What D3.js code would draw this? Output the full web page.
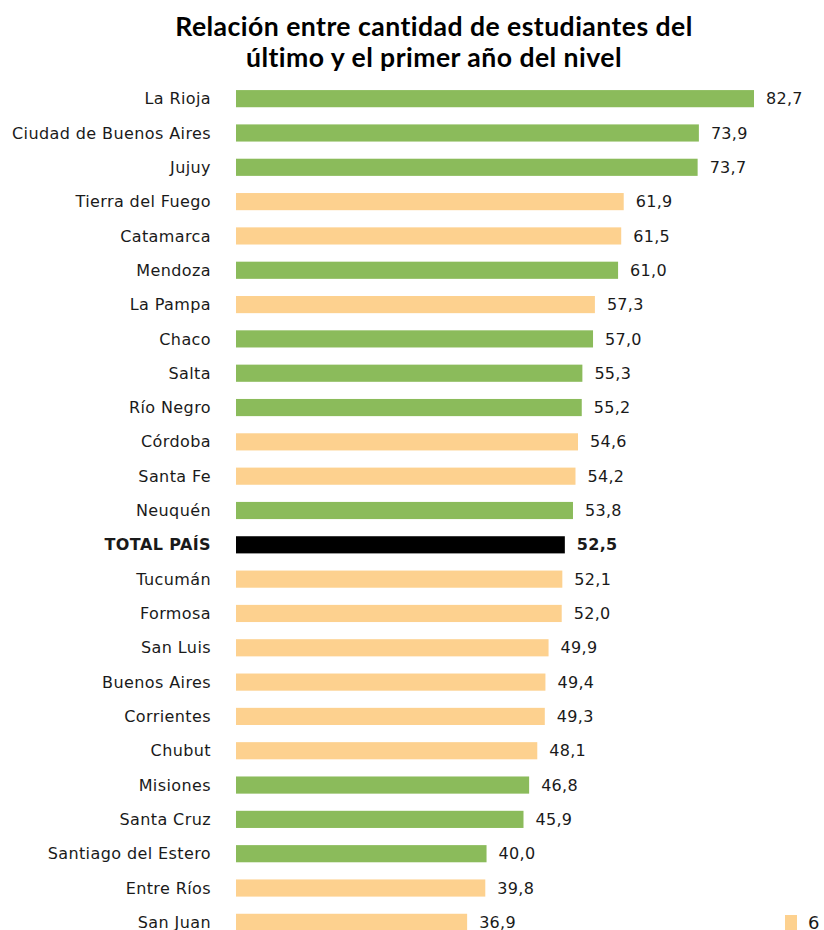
<!DOCTYPE html>
<html>
<head>
<meta charset="utf-8">
<script src="https://cdn.jsdelivr.net/npm/d3@7"></script>
<style>
  html, body { margin: 0; padding: 0; background: #fff; overflow: hidden; }
  svg { display: block; }
</style>
</head>
<body>
<svg id="chart" width="824" height="930"></svg>
<script>
// Provinces ordered by ratio between students in the last and first year
const provinces = ["La Rioja", "Ciudad de Buenos Aires", "Jujuy", "Tierra del Fuego", "Catamarca",
  "Mendoza", "La Pampa", "Chaco", "Salta", "Río Negro", "Córdoba", "Santa Fe", "Neuquén",
  "TOTAL PAÍS", "Tucumán", "Formosa", "San Luis", "Buenos Aires", "Corrientes", "Chubut",
  "Misiones", "Santa Cruz", "Santiago del Estero", "Entre Ríos", "San Juan"];
const ratios = [82.7, 73.9, 73.7, 61.9, 61.5, 61.0, 57.3, 57.0, 55.3, 55.2, 54.6, 54.2, 53.8,
  52.5, 52.1, 52.0, 49.9, 49.4, 49.3, 48.1, 46.8, 45.9, 40.0, 39.8, 36.9];
// group: g = green, t = tan, total = national total
const groups = ["g", "g", "g", "t", "t", "g", "t", "g", "g", "g", "t", "t", "g",
  "total", "t", "t", "t", "t", "t", "t", "g", "g", "g", "t", "t"];
const titleLines = ["Relación entre cantidad de estudiantes del", "último y el primer año del nivel"];

const colors = { g: "#8bbb5b", t: "#fdd18f", total: "#000000" };
const fmt = v => d3.format(".1f")(v).replace(".", ",");

const svg = d3.select("#chart");

svg.selectAll("text.title").data(titleLines).join("text")
  .attr("class", "title")
  .attr("x", 434)
  .attr("y", (d, i) => 36 + i * 30.5)
  .attr("text-anchor", "middle")
  .attr("font-family", "Lato, 'Open Sans', sans-serif")
  .attr("font-weight", "bold")
  .attr("font-size", 26.6)
  .attr("letter-spacing", 0.45)
  .attr("fill", "#000")
  .text(d => d);

const x = d3.scaleLinear().domain([0, 82.7]).range([236, 754]);
const y = d3.scaleBand().domain(provinces).range([81.5, 939.5]).paddingInner(0.5).paddingOuter(0.25);

const rows = provinces.map((p, i) => ({ p, v: ratios[i], g: groups[i] }));

svg.selectAll("rect.bar").data(rows).join("rect")
  .attr("class", "bar")
  .attr("x", x(0))
  .attr("y", d => y(d.p))
  .attr("width", d => x(d.v) - x(0))
  .attr("height", y.bandwidth())
  .attr("fill", d => colors[d.g]);

const font = "'DejaVu Sans', 'Noto Sans', sans-serif";

svg.selectAll("text.cat").data(rows).join("text")
  .attr("class", "cat")
  .attr("x", 211)
  .attr("y", d => y(d.p) + y.bandwidth() / 2)
  .attr("dy", "0.35em")
  .attr("text-anchor", "end")
  .attr("font-family", font)
  .attr("font-size", 16)
  .attr("letter-spacing", 0.4)
  .attr("font-weight", d => d.g === "total" ? "bold" : "normal")
  .attr("fill", "#1a1a1a")
  .text(d => d.p);

svg.selectAll("text.val").data(rows).join("text")
  .attr("class", "val")
  .attr("x", d => x(d.v) + 12)
  .attr("y", d => y(d.p) + y.bandwidth() / 2)
  .attr("dy", "0.35em")
  .attr("font-family", font)
  .attr("font-size", 16)
  .attr("letter-spacing", 0.3)
  .attr("font-weight", d => d.g === "total" ? "bold" : "normal")
  .attr("fill", "#1a1a1a")
  .text(d => fmt(d.v));

// Legend entry at the bottom right
svg.append("rect")
  .attr("x", 785).attr("y", 915).attr("width", 12).attr("height", 15)
  .attr("fill", colors.t);
svg.append("text")
  .attr("x", 808).attr("y", 929)
  .attr("font-family", font)
  .attr("font-size", 18)
  .attr("fill", "#1a1a1a")
  .text("6");
</script>
</body>
</html>
